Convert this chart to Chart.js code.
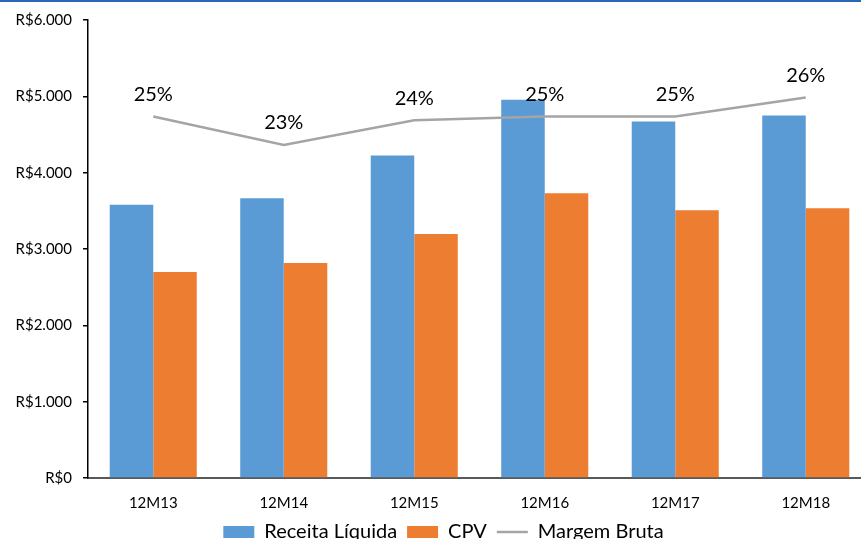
<!DOCTYPE html>
<html>
<head>
<meta charset="utf-8">
<script src="https://cdn.jsdelivr.net/npm/chart.js@4/dist/chart.umd.min.js"></script>
<style>
  html, body { margin: 0; padding: 0; overflow: hidden; background: #fff; }
  #wrap { position: absolute; left: 0; top: 0; width: 880px; height: 552px; }
  #topline { position: absolute; left: 0; top: 0; width: 100%; height: 2px; background: #2a66b8; z-index: 2; }
</style>
</head>
<body>
<div id="topline"></div>
<div id="wrap"><canvas id="chart" width="880" height="552"></canvas></div>
<script>
// Chart data
const periods = ['12M13', '12M14', '12M15', '12M16', '12M17', '12M18'];
const receitaLiquida = [3580, 3665, 4226, 4956, 4670, 4748];
const cpv = [2700, 2817, 3196, 3730, 3509, 3535];
const margemBruta = [24.6, 23.1, 24.4, 24.6, 24.6, 25.6];
const yTickLabels = ['R$0', 'R$1.000', 'R$2.000', 'R$3.000', 'R$4.000', 'R$5.000', 'R$6.000'];

const FONT = 'Lato, "Open Sans", sans-serif';

/**
 * Draw the percentage label above each point of the margin line
 */
const marginLabels = {
    id: 'marginLabels',
    afterDatasetsDraw(chart) {
        const meta = chart.getDatasetMeta(2);
        const ctx = chart.ctx;
        ctx.save();
        ctx.font = '20px ' + FONT;
        ctx.fillStyle = '#000';
        ctx.textAlign = 'center';
        ctx.textBaseline = 'middle';
        meta.data.forEach((pt, i) => {
            ctx.fillText(Math.round(margemBruta[i]) + '%', pt.x, pt.y - 22);
        });
        ctx.restore();
    }
};

new Chart(document.getElementById('chart'), {
    type: 'bar',
    data: {
        labels: periods,
        datasets: [
            {
                label: 'Receita Líquida',
                data: receitaLiquida,
                backgroundColor: '#5b9bd5',
                categoryPercentage: 0.667,
                barPercentage: 1,
                pointStyle: 'rect',
                order: 1
            },
            {
                label: 'CPV',
                data: cpv,
                backgroundColor: '#ed7d31',
                categoryPercentage: 0.667,
                barPercentage: 1,
                pointStyle: 'rect',
                order: 1
            },
            {
                type: 'line',
                label: 'Margem Bruta',
                data: margemBruta,
                yAxisID: 'y2',
                borderColor: '#a5a5a5',
                backgroundColor: '#a5a5a5',
                borderWidth: 2.5,
                pointRadius: 0,
                pointStyle: 'line',
                tension: 0,
                order: 0
            }
        ]
    },
    options: {
        responsive: false,
        animation: false,
        layout: { padding: { top: 17, right: 9, left: 16, bottom: 0 } },
        plugins: {
            tooltip: { enabled: false },
            legend: {
                position: 'bottom',
                labels: {
                    usePointStyle: true,
                    pointStyleWidth: 31,
                    boxHeight: 12,
                    padding: 10,
                    color: '#000',
                    font: { family: FONT, size: 20 },
                    sort: (a, b) => a.datasetIndex - b.datasetIndex
                }
            }
        },
        scales: {
            x: {
                grid: { display: false, drawTicks: false },
                border: { display: true, color: '#595959', width: 2 },
                ticks: { color: '#000', font: { family: FONT, size: 15 }, padding: 16 },
                afterFit(scale) { scale.height = 34; }
            },
            y: {
                min: 0,
                max: 6000,
                ticks: {
                    stepSize: 1000,
                    color: '#000',
                    padding: 11,
                    font: { family: FONT, size: 15 },
                    callback: (value) => yTickLabels[value / 1000]
                },
                grid: { drawOnChartArea: false, drawTicks: true, tickLength: 5, color: '#000', lineWidth: 1.5 },
                border: { display: true, color: '#000', width: 1.5 },
                afterFit(scale) { scale.width = 72; }
            },
            y2: {
                display: false,
                min: 5.5,
                max: 29.7
            }
        }
    },
    plugins: [marginLabels]
});
</script>
</body>
</html>
